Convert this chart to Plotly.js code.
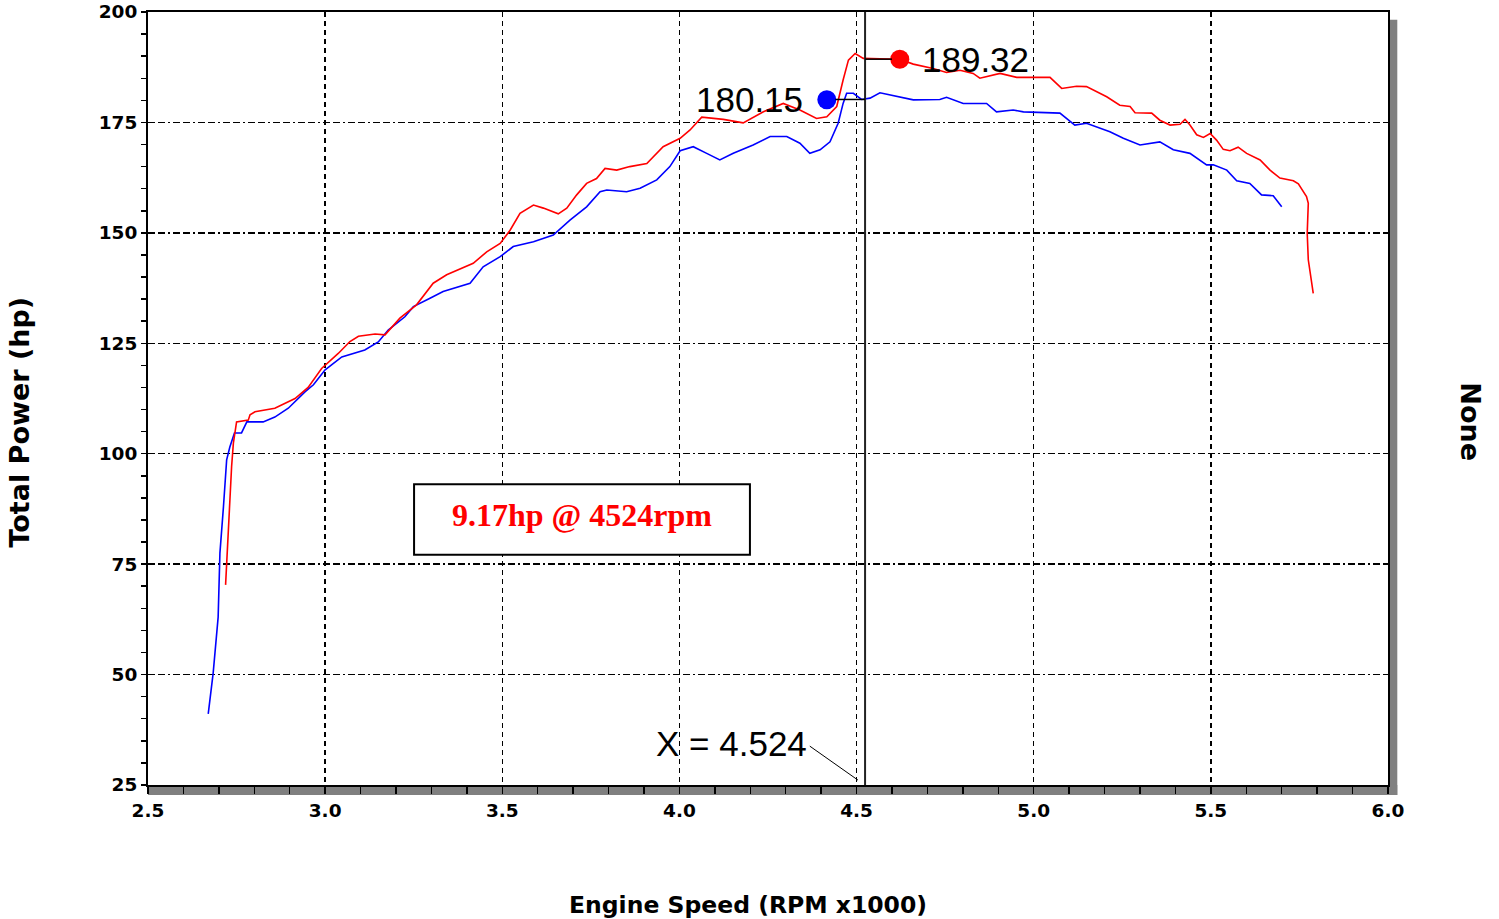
<!DOCTYPE html>
<html><head><meta charset="utf-8">
<script src="https://cdn.plot.ly/plotly-3.0.1.min.js"></script>
<style>html,body{margin:0;padding:0;background:#fff}#chart{width:1499px;height:919px}</style>
</head><body><div id="chart"></div>
<script>
// Engine speed (RPM x1000) and total power (hp)
const blueRpm = [2.670,2.684,2.698,2.703,2.713,2.722,2.731,2.744,2.764,2.779,2.825,2.858,2.896,2.943,2.967,3.000,3.047,3.112,3.150,3.178,3.225,3.249,3.296,3.333,3.409,3.446,3.494,3.531,3.588,3.644,3.691,3.738,3.776,3.795,3.851,3.889,3.936,3.973,4.002,4.039,4.077,4.114,4.152,4.208,4.256,4.303,4.340,4.368,4.397,4.425,4.448,4.462,4.472,4.491,4.514,4.538,4.566,4.604,4.660,4.735,4.754,4.801,4.867,4.895,4.942,4.971,5.074,5.116,5.149,5.215,5.253,5.300,5.356,5.394,5.441,5.488,5.507,5.545,5.573,5.610,5.643,5.676,5.700];
const blueHp = [41.1,50.4,63,77.5,88,98.6,101.5,104.7,104.7,107.2,107.2,108.3,110.3,114,115.6,119,121.9,123.5,125.3,128,131,133.3,135.2,136.7,138.6,142.3,144.6,146.9,148,149.5,152.9,155.9,159.3,159.7,159.3,160.1,162,165,168.6,169.5,168,166.5,168,169.9,171.8,171.8,170.3,168,168.8,170.6,174.8,179.3,181.6,181.6,180.2,180.5,181.7,181,180.1,180.2,180.7,179.3,179.3,177.4,177.8,177.4,177.1,174.4,174.8,172.9,171.4,169.9,170.6,168.8,168,165.4,165.4,164.2,161.8,161.2,158.6,158.4,155.9];
const redRpm = [2.719,2.722,2.727,2.731,2.736,2.741,2.746,2.750,2.783,2.788,2.802,2.858,2.915,2.952,2.990,3.037,3.070,3.094,3.141,3.169,3.211,3.258,3.305,3.343,3.418,3.456,3.494,3.522,3.550,3.588,3.616,3.658,3.682,3.710,3.738,3.766,3.790,3.823,3.860,3.908,3.954,4.002,4.030,4.063,4.124,4.180,4.237,4.293,4.340,4.387,4.416,4.444,4.462,4.477,4.496,4.519,4.566,4.622,4.660,4.716,4.754,4.792,4.829,4.848,4.905,4.952,5.046,5.079,5.121,5.149,5.206,5.243,5.272,5.286,5.333,5.356,5.385,5.413,5.427,5.441,5.460,5.479,5.498,5.516,5.535,5.554,5.577,5.601,5.639,5.667,5.695,5.733,5.747,5.770,5.775,5.772,5.775,5.789];
const redHp = [70.3,75.3,83.2,91.1,97.1,102.4,104.7,107.2,107.6,108.8,109.5,110.3,112.5,115,119.3,122.7,125.4,126.6,127.1,126.9,130.7,133.7,138.6,140.5,143.1,145.7,147.6,150.6,154.4,156.3,155.6,154.3,155.6,158.6,161.2,162.3,164.6,164.2,165,165.7,169.5,171.4,173.3,176.2,175.7,174.9,177.4,179.3,177.8,175.9,176.3,178.6,184.6,189.1,190.6,189.5,189.4,189.3,188.2,187.2,186.3,186.8,186.1,185,186.1,185.2,185.2,182.7,183.2,183.1,180.8,178.9,178.6,177.2,177.1,175.5,174.4,174.6,175.7,174.4,172.2,171.6,172.5,171,168.9,168.6,169.4,168,166.5,164.2,162.4,161.8,161.1,158.2,156.7,149.9,143.9,136.3];

const peakRpm = [4.622, 4.416];
const peakHp = [189.32, 180.15];
const peakLabels = ['189.32', '180.15'];
const peakColors = ['#ff0000', '#0000ff'];
const cursorRpm = 4.524;
const gainText = '9.17hp @ 4524rpm';

const xTickVals = [2.5, 3.0, 3.5, 4.0, 4.5, 5.0, 5.5, 6.0];
const xTickText = ['2.5', '3.0', '3.5', '4.0', '4.5', '5.0', '5.5', '6.0'];
const yTickVals = [25, 50, 75, 100, 125, 150, 175, 200];
const yTickText = ['25', '50', '75', '100', '125', '150', '175', '200'];

const traces = [
  {x: blueRpm, y: blueHp, type: 'scatter', mode: 'lines', line: {color: '#0000ff', width: 1.6}, hoverinfo: 'skip'},
  {x: redRpm, y: redHp, type: 'scatter', mode: 'lines', line: {color: '#ff0000', width: 1.6}, hoverinfo: 'skip'},
  {x: peakRpm, y: peakHp, type: 'scatter', mode: 'markers', marker: {color: peakColors, size: 19, line: {width: 0}}, hoverinfo: 'skip'}
];

const tickFont = {family: 'DejaVu Sans', size: 18.5, color: '#000', weight: 'bold'};
const xTitleFont = {family: 'DejaVu Sans', size: 23.5, color: '#000', weight: 'bold'};
const yTitleFont = {family: 'DejaVu Sans', size: 27, color: '#000', weight: 'bold'};
const bigFont = {family: 'Liberation Sans', size: 35, color: '#000'};

const layout = {
  width: 1499, height: 919,
  margin: {l: 148, r: 111, t: 12, b: 134},
  paper_bgcolor: '#fff', plot_bgcolor: '#fff',
  showlegend: false,
  xaxis: {
    range: [2.5, 6.0], tickvals: xTickVals, ticktext: xTickText,
    tickfont: tickFont, ticks: 'outside', ticklen: 7, tickcolor: '#000', tickwidth: 1.5,
    minor: {dtick: 0.1, ticks: 'outside', ticklen: 7, tickcolor: '#000', tickwidth: 1.5, showgrid: false},
    showline: true, linecolor: '#000', linewidth: 2, mirror: true,
    showgrid: true, gridcolor: '#000', gridwidth: 1.5, griddash: '5px,4px',
    zeroline: false, ticklabelstandoff: 1
  },
  yaxis: {
    range: [25, 200], tickvals: yTickVals, ticktext: yTickText,
    tickfont: tickFont, ticks: 'outside', ticklen: 5, tickcolor: 'rgba(0,0,0,0)',
    minor: {dtick: 5, ticks: 'outside', ticklen: 5, tickcolor: '#000', tickwidth: 1.5, showgrid: false},
    showline: true, linecolor: '#000', linewidth: 2, mirror: true,
    showgrid: true, gridcolor: '#000', gridwidth: 1.5, griddash: '7px,3px,7px,3px,2px,3px',
    zeroline: false
  },
  shapes: [
    {type: 'rect', xref: 'paper', yref: 'paper', x0: 1.0016, x1: 1.0075, y0: -0.013, y1: 0.99, fillcolor: '#808080', line: {width: 0}, layer: 'below'},
    {type: 'rect', xref: 'paper', yref: 'paper', x0: 0, x1: 1.0075, y0: -0.013, y1: 0, fillcolor: '#808080', line: {width: 0}, layer: 'below'},
    {type: 'line', xref: 'x', yref: 'paper', x0: cursorRpm, x1: cursorRpm, y0: 0, y1: 1, line: {color: '#222', width: 2}},
    {type: 'line', xref: 'x', yref: 'y', x0: cursorRpm, x1: 4.60, y0: peakHp[0], y1: peakHp[0], line: {color: '#000', width: 1.5}},
    {type: 'line', xref: 'x', yref: 'y', x0: 4.44, x1: cursorRpm, y0: 180.2, y1: 180.2, line: {color: '#000', width: 1.5}},
    {type: 'line', xref: 'x', yref: 'y', x0: 4.368, x1: 4.504, y0: 33.8, y1: 26.1, line: {color: '#000', width: 1}},
    {type: 'rect', xref: 'x', yref: 'y', x0: 3.251, x1: 4.199, y0: 77.1, y1: 93.1, fillcolor: '#fff', line: {color: '#000', width: 2}, layer: 'above'}
  ],
  annotations: [
    {x: 3.725, y: 86.1, xref: 'x', yref: 'y', text: gainText, showarrow: false,
     font: {family: 'Liberation Serif', size: 32, color: '#ff0000', weight: 'bold'}},
    {x: 4.679, y: peakHp[0], xref: 'x', yref: 'y', text: peakLabels[0], showarrow: false, xanchor: 'left', font: bigFont},
    {x: 4.354, y: peakHp[1], xref: 'x', yref: 'y', text: peakLabels[1], showarrow: false, xanchor: 'right', font: bigFont},
    {x: 4.146, y: 34.5, xref: 'x', yref: 'y', text: 'X = ' + cursorRpm.toFixed(3), showarrow: false, font: bigFont},
    {x: 0.4839, y: -0.1552, xref: 'paper', yref: 'paper', text: 'Engine Speed (RPM x1000)', showarrow: false, yanchor: 'middle', font: xTitleFont},
    {x: -0.1177, y: 0.4696, xref: 'paper', yref: 'paper', text: 'Total Power (hp)', showarrow: false, textangle: -90, font: yTitleFont},
    {x: 1.080, y: 0.4696, xref: 'paper', yref: 'paper', text: 'None', showarrow: false, textangle: 90, font: yTitleFont}
  ]
};

Plotly.newPlot('chart', traces, layout, {displayModeBar: false, staticPlot: true});
</script>
</body></html>
